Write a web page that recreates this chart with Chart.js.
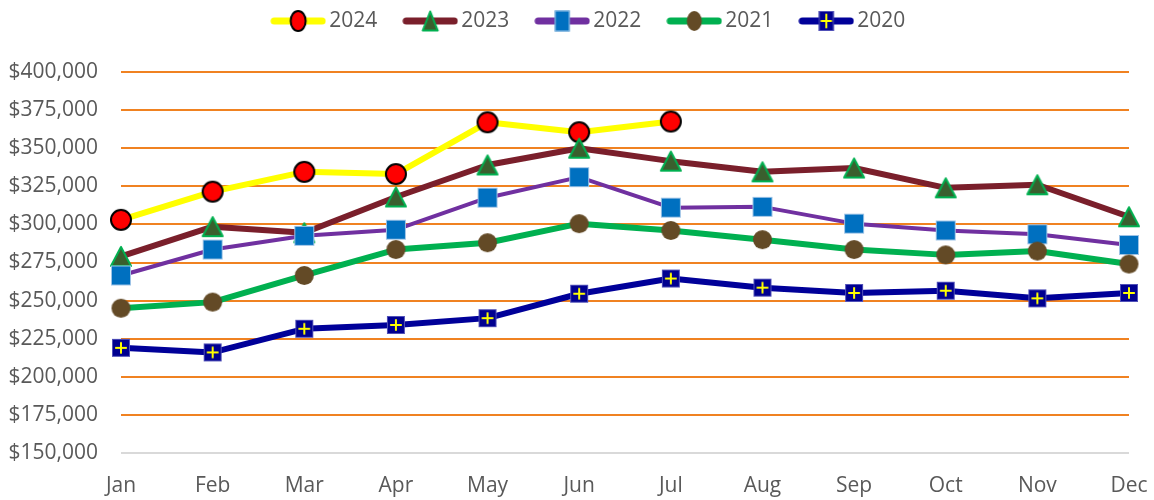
<!DOCTYPE html>
<html lang="en">
<head>
<meta charset="UTF-8">
<title>Monthly values 2020-2024</title>
<script src="https://cdn.jsdelivr.net/npm/chart.js"></script>
<style>
    * { margin: 0; padding: 0; box-sizing: border-box; }
    body { background: #ffffff; width: 1154px; height: 500px; overflow: hidden; }
    .chart-box { position: relative; width: 1154px; height: 500px; }
</style>
</head>
<body>
<div class="chart-box"><canvas id="lineChart"></canvas></div>
<script>
// data
const months = ['Jan', 'Feb', 'Mar', 'Apr', 'May', 'Jun', 'Jul', 'Aug', 'Sep', 'Oct', 'Nov', 'Dec'];
const years = ['2024', '2023', '2022', '2021', '2020'];
const values2024 = [303000, 321500, 334500, 333000, 367000, 360500, 367500];
const values2023 = [279000, 298500, 294500, 318000, 339000, 350000, 341500, 334500, 337000, 324000, 326000, 305000];
const values2022 = [266500, 283500, 292500, 296500, 317500, 331000, 311000, 311500, 300500, 296000, 293500, 286500];
const values2021 = [245000, 249000, 266500, 283500, 288000, 300500, 296000, 290000, 283500, 280000, 282500, 274000];
const values2020 = [219000, 216000, 231500, 234000, 238500, 254500, 264500, 258500, 255000, 256500, 251500, 255000];
const yMin = 150000, yMax = 400000, yStep = 25000;

const textColor = '#595959';
const fontFamily = "'Open Sans', sans-serif";
const fontSize = 21;

// marker painters (sx, sy = half width / half height)
function paintMarker(ctx, kind, cx, cy, sx, sy) {
    ctx.save();
    if (kind === 'circleRed') {
        ctx.beginPath();
        ctx.ellipse(cx, cy, sx, sy, 0, 0, Math.PI * 2);
        ctx.fillStyle = '#FF0000';
        ctx.fill();
        ctx.lineWidth = 2;
        ctx.strokeStyle = '#000000';
        ctx.stroke();
    } else if (kind === 'triangle') {
        ctx.beginPath();
        ctx.moveTo(cx, cy - sy);
        ctx.lineTo(cx + sx, cy + sy);
        ctx.lineTo(cx - sx, cy + sy);
        ctx.closePath();
        ctx.fillStyle = '#3A5F2E';
        ctx.fill();
        ctx.lineWidth = 2;
        ctx.lineJoin = 'round';
        ctx.strokeStyle = '#00B050';
        ctx.stroke();
    } else if (kind === 'square') {
        ctx.fillStyle = '#0070C0';
        ctx.fillRect(cx - sx, cy - sy, sx * 2, sy * 2);
        ctx.lineWidth = 1;
        ctx.strokeStyle = '#9DC3E6';
        ctx.strokeRect(cx - sx + 0.5, cy - sy + 0.5, sx * 2 - 1, sy * 2 - 1);
    } else if (kind === 'circleBrown') {
        ctx.beginPath();
        ctx.ellipse(cx, cy, sx, sy, 0, 0, Math.PI * 2);
        ctx.fillStyle = '#634A26';
        ctx.fill();
    } else if (kind === 'cross') {
        ctx.fillStyle = '#000090';
        ctx.fillRect(cx - sx, cy - sy, sx * 2, sy * 2);
        ctx.lineWidth = 1;
        ctx.strokeStyle = '#5050B8';
        ctx.strokeRect(cx - sx + 0.5, cy - sy + 0.5, sx * 2 - 1, sy * 2 - 1);
        ctx.strokeStyle = '#FFFF00';
        ctx.lineWidth = 2;
        ctx.beginPath();
        ctx.moveTo(cx - sx * 0.65, cy);
        ctx.lineTo(cx + sx * 0.65, cy);
        ctx.moveTo(cx, cy - sy * 0.65);
        ctx.lineTo(cx, cy + sy * 0.65);
        ctx.stroke();
    }
    ctx.restore();
}

function markerCanvas(kind, sx, sy) {
    const c = document.createElement('canvas');
    c.width = Math.ceil(sx * 2 + 4);
    c.height = Math.ceil(sy * 2 + 4);
    paintMarker(c.getContext('2d'), kind, c.width / 2, c.height / 2, sx, sy);
    return c;
}

function legendCanvas(s) {
    const c = document.createElement('canvas');
    c.width = 56;
    c.height = 26;
    const ctx = c.getContext('2d');
    ctx.strokeStyle = s.color;
    ctx.lineWidth = 7;
    ctx.lineCap = 'round';
    ctx.beginPath();
    ctx.moveTo(4, 13);
    ctx.lineTo(52, 13);
    ctx.stroke();
    paintMarker(ctx, s.marker, 28, 13, s.lx, s.ly);
    return c;
}

const styles = [
    { color: '#FFFF00', width: 6, marker: 'circleRed', sx: 10, sy: 10, lx: 7.5, ly: 10 },
    { color: '#7A1F2B', width: 6, marker: 'triangle', sx: 10, sy: 9.5, lx: 7.5, ly: 9.5 },
    { color: '#7030A0', width: 4, marker: 'square', sx: 10, sy: 10, lx: 7.5, ly: 10.5 },
    { color: '#00B050', width: 6, marker: 'circleBrown', sx: 9.5, sy: 9.5, lx: 7.5, ly: 10 },
    { color: '#000099', width: 6, marker: 'cross', sx: 9, sy: 9, lx: 7.5, ly: 10 }
];
const seriesValues = [values2024, values2023, values2022, values2021, values2020];

const datasets = years.map((y, i) => ({
    label: y,
    data: seriesValues[i],
    borderColor: styles[i].color,
    backgroundColor: styles[i].color,
    borderWidth: styles[i].width,
    borderJoinStyle: 'round',
    borderCapStyle: 'round',
    pointStyle: markerCanvas(styles[i].marker, styles[i].sx, styles[i].sy),
    pointRadius: 10,
    pointHoverRadius: 10,
    tension: 0,
    fill: false,
    order: 5 - i  // later years drawn on top, like the original
}));

// legend: keep room under it, then move it into place
const legendTweak = {
    id: 'legendTweak',
    beforeLayout(chart) {
        const lg = chart.legend;
        if (lg && !lg._patched) {
            const fit = lg.fit;
            lg.fit = function () { fit.call(this); this.height += 8.5; };
            lg._patched = true;
        }
    },
    afterLayout(chart) {
        const lg = chart.legend;
        lg.left += 24;
        lg.right += 24;
        lg.top -= 22;
        lg.bottom -= 22;
    }
};

new Chart(document.getElementById('lineChart').getContext('2d'), {
    type: 'line',
    data: { labels: months, datasets: datasets },
    plugins: [legendTweak],
    options: {
        responsive: true,
        maintainAspectRatio: false,
        animation: false,
        layout: { padding: { top: 0, right: 25, bottom: 0, left: 6 } },
        plugins: {
            tooltip: { enabled: false },
            legend: {
                position: 'top',
                labels: {
                    usePointStyle: true,
                    pointStyleWidth: 41,
                    boxHeight: 21,
                    padding: 32.5,
                    color: textColor,
                    font: { family: fontFamily, size: fontSize },
                    generateLabels: chart => years.map((y, i) => ({
                        text: y,
                        pointStyle: legendCanvas(styles[i]),
                        fillStyle: 'rgba(0,0,0,0)',
                        strokeStyle: 'rgba(0,0,0,0)',
                        lineWidth: 0,
                        fontColor: textColor,
                        hidden: false,
                        datasetIndex: i
                    }))
                }
            }
        },
        scales: {
            x: {
                offset: false,
                grid: { display: false, drawTicks: false },
                border: { display: false },
                ticks: {
                    color: textColor,
                    font: { family: fontFamily, size: fontSize },
                    padding: 20,
                    maxRotation: 0,
                    autoSkip: false
                },
                afterFit: scale => {
                    scale.height = 47;
                    scale.paddingLeft = 0;
                    scale.paddingRight = 0;
                }
            },
            y: {
                min: yMin,
                max: yMax,
                grid: {
                    drawTicks: false,
                    lineWidth: 2,
                    color: ctx => ctx.tick && ctx.tick.value === yMin ? '#D9D9D9' : '#F08221'
                },
                border: { display: false },
                ticks: {
                    stepSize: yStep,
                    color: textColor,
                    font: { family: fontFamily, size: fontSize },
                    padding: 23,
                    callback: v => '$' + v.toLocaleString('en-US')
                },
                afterFit: scale => { scale.width = 115; }
            }
        }
    }
});
</script>
</body>
</html>
